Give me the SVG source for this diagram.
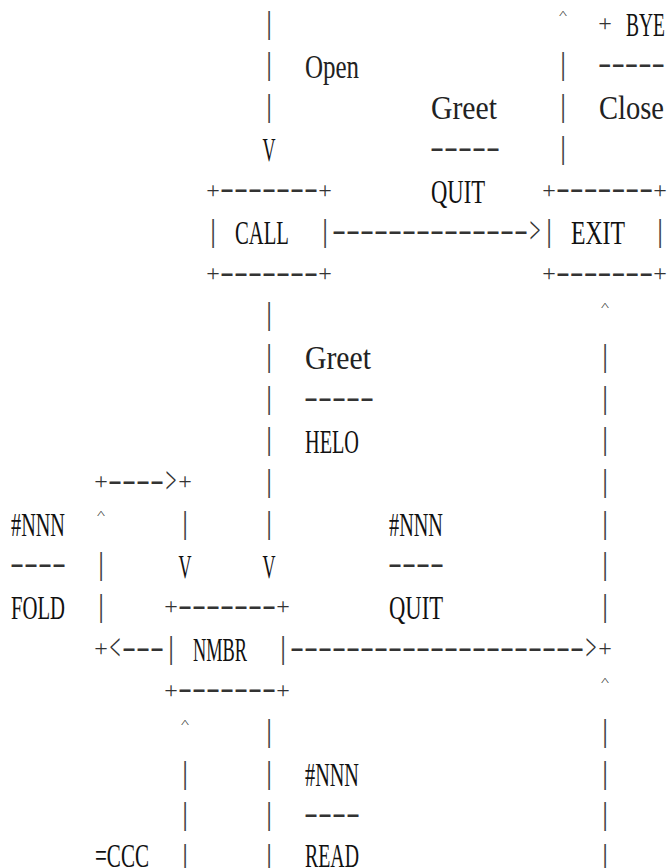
<svg xmlns="http://www.w3.org/2000/svg" width="670" height="868" viewBox="0 0 670 868">
<style>
text{font-family:"Liberation Serif","Times New Roman",serif}
.w{font-size:33px;fill:#111}
.l{font-size:33px;fill:#222}
.v{font-size:33px;fill:#111;text-anchor:middle}
.b{font-size:31px;fill:#444;text-anchor:middle}
.p{font-size:24px;fill:#333;text-anchor:middle}
.d{font-size:33px;fill:#333}
.a{font-size:38px;fill:#333;text-anchor:middle}
.k{font-size:24px;fill:#333;text-anchor:middle}
</style>
<rect width="670" height="868" fill="#fff"/>
<g id="node-call">
<text class="p" x="213 325" y="197.7">++</text>
<text class="d" x="220" y="199.2" textLength="98" lengthAdjust="spacingAndGlyphs">-------</text>
<text class="b" x="213 325" y="240.8">||</text>
<text class="w" x="235" y="244.3" textLength="54" lengthAdjust="spacingAndGlyphs">CALL</text>
<text class="p" x="213 325" y="281">++</text>
<text class="d" x="220" y="282.5" textLength="98" lengthAdjust="spacingAndGlyphs">-------</text>
</g>
<g id="node-exit">
<text class="p" x="549 660" y="197.7">++</text>
<text class="d" x="556" y="199.2" textLength="97" lengthAdjust="spacingAndGlyphs">-------</text>
<text class="b" x="549 660" y="240.8">||</text>
<text class="w" x="571" y="244.3" textLength="54" lengthAdjust="spacingAndGlyphs">EXIT</text>
<text class="p" x="549 660" y="281">++</text>
<text class="d" x="556" y="282.5" textLength="97" lengthAdjust="spacingAndGlyphs">-------</text>
</g>
<g id="node-nmbr">
<text class="p" x="171 283" y="614.3">++</text>
<text class="d" x="178" y="615.8" textLength="98" lengthAdjust="spacingAndGlyphs">-------</text>
<text class="b" x="171 283" y="657.5">||</text>
<text class="w" x="193" y="661" textLength="54" lengthAdjust="spacingAndGlyphs">NMBR</text>
<text class="p" x="171 283" y="697.7">++</text>
<text class="d" x="178" y="699.2" textLength="98" lengthAdjust="spacingAndGlyphs">-------</text>
</g>
<g id="connectors">
<text class="b" x="269" y="32.5">|</text>
<text class="b" x="269 563" y="74.2">||</text>
<text class="b" x="269 563" y="115.8">||</text>
<text class="b" x="563" y="157.5">|</text>
<text class="b" x="269" y="324.2">|</text>
<text class="b" x="269 605" y="365.8">||</text>
<text class="b" x="269 605" y="407.5">||</text>
<text class="b" x="269 605" y="449.2">||</text>
<text class="b" x="269 605" y="490.8">||</text>
<text class="b" x="185 269 605" y="532.5">|||</text>
<text class="b" x="101 605" y="574.2">||</text>
<text class="b" x="101 605" y="615.8">||</text>
<text class="b" x="269 605" y="740.8">||</text>
<text class="b" x="185 269 605" y="782.5">|||</text>
<text class="b" x="185 269 605" y="824.2">|||</text>
<text class="b" x="185 269 605" y="865.8">|||</text>
<text class="p" x="605" y="31">+</text>
<text class="p" x="101 185" y="489.3">++</text>
<text class="p" x="101 605" y="656">++</text>
<text class="d" x="332" y="240.8" textLength="196" lengthAdjust="spacingAndGlyphs">--------------</text>
<text class="d" x="108" y="490.8" textLength="56" lengthAdjust="spacingAndGlyphs">----</text>
<text class="d" x="122" y="657.5" textLength="42" lengthAdjust="spacingAndGlyphs">---</text>
<text class="d" x="290" y="657.5" textLength="294" lengthAdjust="spacingAndGlyphs">---------------------</text>
<text class="a" x="535" y="243" textLength="11" lengthAdjust="spacingAndGlyphs">&gt;</text>
<text class="a" x="171" y="493" textLength="11" lengthAdjust="spacingAndGlyphs">&gt;</text>
<text class="a" x="115" y="659.7" textLength="11" lengthAdjust="spacingAndGlyphs">&lt;</text>
<text class="a" x="591" y="659.7" textLength="11" lengthAdjust="spacingAndGlyphs">&gt;</text>
<text class="v" x="269" y="161" textLength="13" lengthAdjust="spacingAndGlyphs">V</text>
<text class="v" x="185" y="577.7" textLength="13" lengthAdjust="spacingAndGlyphs">V</text>
<text class="v" x="269" y="577.7" textLength="13" lengthAdjust="spacingAndGlyphs">V</text>
<text class="k" transform="translate(563 18.2) scale(1 .45)" textLength="8" lengthAdjust="spacingAndGlyphs">^</text>
<text class="k" transform="translate(605 309.9) scale(1 .45)" textLength="8" lengthAdjust="spacingAndGlyphs">^</text>
<text class="k" transform="translate(101 518.2) scale(1 .45)" textLength="8" lengthAdjust="spacingAndGlyphs">^</text>
<text class="k" transform="translate(605 684.9) scale(1 .45)" textLength="8" lengthAdjust="spacingAndGlyphs">^</text>
<text class="k" transform="translate(185 726.5) scale(1 .45)" textLength="8" lengthAdjust="spacingAndGlyphs">^</text>
</g>
<g id="labels">
<text class="w" x="626" y="36" textLength="39" lengthAdjust="spacingAndGlyphs">BYE</text>
<text class="l" x="305" y="77.7" textLength="54" lengthAdjust="spacingAndGlyphs">Open</text>
<text class="d" x="598" y="74.2" textLength="67" lengthAdjust="spacingAndGlyphs">-----</text>
<text class="l" x="431" y="119.3" textLength="66" lengthAdjust="spacingAndGlyphs">Greet</text>
<text class="l" x="599" y="119.3" textLength="65" lengthAdjust="spacingAndGlyphs">Close</text>
<text class="d" x="430" y="157.5" textLength="70" lengthAdjust="spacingAndGlyphs">-----</text>
<text class="w" x="431" y="202.7" textLength="54" lengthAdjust="spacingAndGlyphs">QUIT</text>
<text class="l" x="305" y="369.3" textLength="66" lengthAdjust="spacingAndGlyphs">Greet</text>
<text class="d" x="304" y="407.5" textLength="70" lengthAdjust="spacingAndGlyphs">-----</text>
<text class="w" x="305" y="452.7" textLength="54" lengthAdjust="spacingAndGlyphs">HELO</text>
<text class="w" x="11" y="536" textLength="54" lengthAdjust="spacingAndGlyphs">#NNN</text>
<text class="w" x="389" y="536" textLength="54" lengthAdjust="spacingAndGlyphs">#NNN</text>
<text class="d" x="10" y="574.2" textLength="56" lengthAdjust="spacingAndGlyphs">----</text>
<text class="d" x="388" y="574.2" textLength="56" lengthAdjust="spacingAndGlyphs">----</text>
<text class="w" x="11" y="619.3" textLength="54" lengthAdjust="spacingAndGlyphs">FOLD</text>
<text class="w" x="389" y="619.3" textLength="54" lengthAdjust="spacingAndGlyphs">QUIT</text>
<text class="w" x="305" y="786" textLength="54" lengthAdjust="spacingAndGlyphs">#NNN</text>
<text class="d" x="304" y="824.2" textLength="56" lengthAdjust="spacingAndGlyphs">----</text>
<text class="w" x="95" y="867" textLength="54" lengthAdjust="spacingAndGlyphs">=CCC</text>
<text class="w" x="305" y="867" textLength="54" lengthAdjust="spacingAndGlyphs">READ</text>
</g>
</svg>
